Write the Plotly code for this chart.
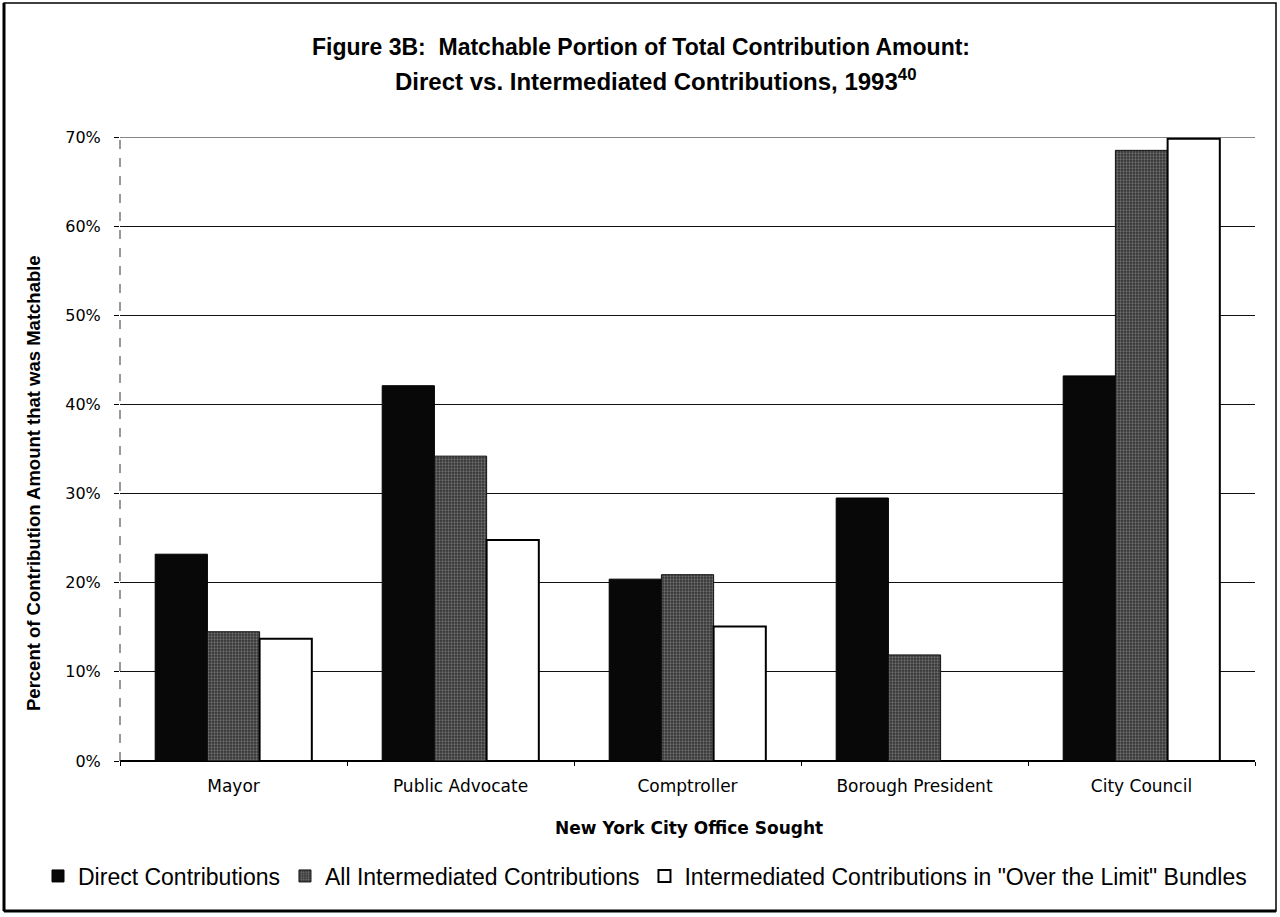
import plotly.graph_objects as go

# Offices and the matchable share (%) of each contribution type
offices = ["Mayor", "Public Advocate", "Comptroller", "Borough President", "City Council"]
direct_pct = [23.2, 42.1, 20.4, 29.5, 43.2]
all_intermediated_pct = [14.5, 34.2, 20.9, 11.9, 68.5]
over_limit_pct = [13.7, 24.8, 15.1, None, 69.8]

series_names = [
    "Direct Contributions",
    "All Intermediated Contributions",
    "Intermediated Contributions in \"Over the Limit\" Bundles",
]
y_ticks = [0, 10, 20, 30, 40, 50, 60, 70]
y_tick_text = [f"{v}%" for v in y_ticks]

W, H = 1280, 917
L, R, T, B = 120, 25, 137, 156
PW, PH = W - L - R, H - T - B


def px_x(px):
    return (px - L) / PW


def px_y(py):
    return (H - B - py) / PH


fig = go.Figure()
fig.add_bar(
    x=offices, y=direct_pct, name=series_names[0],
    marker=dict(color="#080808", line=dict(color="#000000", width=1)),
)
fig.add_bar(
    x=offices, y=all_intermediated_pct, name=series_names[1],
    marker=dict(
        color="#3a3a3a",
        line=dict(color="#111111", width=1),
        pattern=dict(shape=".", fgcolor="#a8a8a8", bgcolor="#333333",
                     size=3, solidity=0.45),
    ),
)
fig.add_bar(
    x=offices, y=over_limit_pct, name=series_names[2],
    marker=dict(color="#ffffff", line=dict(color="#000000", width=2)),
)

font_main = "Liberation Sans, Arial, sans-serif"
font_ticks = "DejaVu Sans, Liberation Sans, sans-serif"

fig.update_layout(
    width=W, height=H,
    margin=dict(l=L, r=R, t=T, b=B, autoexpand=False),
    paper_bgcolor="white", plot_bgcolor="white",
    barmode="group", bargap=0.31, bargroupgap=0,
    showlegend=True,
    legend=dict(
        orientation="h", x=px_x(38), y=px_y(876),
        xanchor="left", yanchor="middle",
        font=dict(family=font_main, size=23, color="#000000"),
        bgcolor="rgba(0,0,0,0)", traceorder="normal",
    ),
    font=dict(family=font_main, color="#000000"),
)

fig.update_xaxes(
    showgrid=False, showline=False, zeroline=False,
    ticks="outside", tickson="boundaries", ticklen=4, tickcolor="#000000",
    tickfont=dict(family=font_ticks, size=17, color="#000000"),
    ticklabelstandoff=13,
)
fig.update_yaxes(
    range=[0, 70], tickvals=y_ticks, ticktext=y_tick_text,
    showgrid=True, gridcolor="#111111", gridwidth=1,
    zeroline=True, zerolinecolor="#000000", zerolinewidth=1.5,
    showline=False,
    ticks="outside", ticklen=5, tickcolor="#000000",
    tickfont=dict(family=font_ticks, size=16, color="#000000"),
    ticklabelstandoff=10,
)

annotations = [
    dict(text="<b>Figure 3B:  Matchable Portion of Total Contribution Amount:</b>",
         x=px_x(641), y=px_y(47), font=dict(size=23)),
    dict(text="<b>Direct vs. Intermediated Contributions, 1993<sup>40</sup></b>",
         x=px_x(655), y=px_y(80), font=dict(size=24)),
    dict(text="<b>New York City Office Sought</b>",
         x=px_x(689), y=px_y(828), font=dict(family=font_ticks, size=17)),
    dict(text="<b>Percent of Contribution Amount that was Matchable</b>",
         x=px_x(33), y=px_y(483), textangle=-90, font=dict(size=18.5)),
]
for a in annotations:
    a.update(xref="paper", yref="paper", showarrow=False,
             xanchor="center", yanchor="middle")
    a["font"].setdefault("family", font_main)
    a["font"]["color"] = "#000000"
fig.update_layout(annotations=annotations)

shapes = [
    # top gridline at the range edge
    dict(type="line", xref="paper", yref="y", x0=0, x1=1, y0=70, y1=70,
         layer="below", line=dict(color="#111111", width=1)),
    # dashed value axis
    dict(type="line", xref="paper", yref="y", x0=0, x1=0, y0=0, y1=70,
         line=dict(color="#333333", width=1, dash="dash")),
    # outer frame
    dict(type="rect", xref="paper", yref="paper",
         x0=px_x(4), x1=px_x(1276), y0=px_y(911), y1=px_y(3),
         line=dict(color="#000000", width=1.5)),
    dict(type="line", xref="paper", yref="paper",
         x0=px_x(4), x1=px_x(4), y0=px_y(911), y1=px_y(3),
         line=dict(color="#000000", width=3)),
    dict(type="line", xref="paper", yref="paper",
         x0=px_x(4), x1=px_x(1276), y0=px_y(911), y1=px_y(911),
         line=dict(color="#000000", width=3)),
]
fig.update_layout(shapes=shapes)

fig.write_html("out.html")
